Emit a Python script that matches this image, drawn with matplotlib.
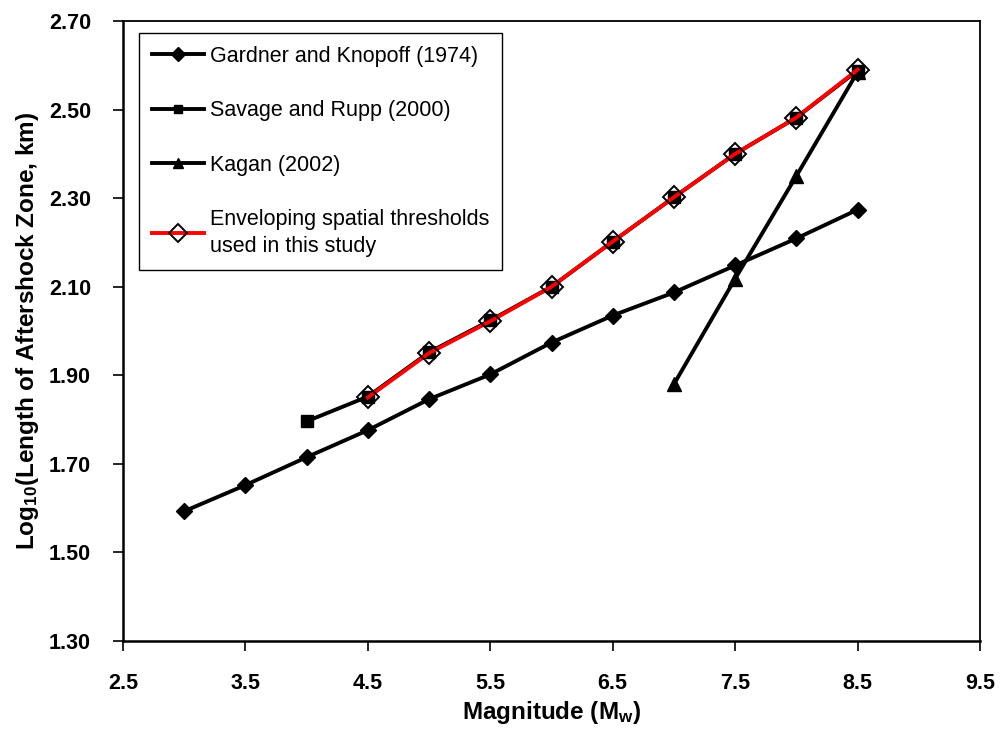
import matplotlib
matplotlib.use("Agg")
import matplotlib.pyplot as plt

plt.rcParams['font.family'] = ['Liberation Sans', 'DejaVu Sans']
plt.rcParams['mathtext.fontset'] = 'custom'
plt.rcParams['mathtext.rm'] = 'Liberation Sans:bold'
plt.rcParams['mathtext.bf'] = 'Liberation Sans:bold'
plt.rcParams['mathtext.it'] = 'Liberation Sans:bold'

# data
gk_mag = [3.0, 3.5, 4.0, 4.5, 5.0, 5.5, 6.0, 6.5, 7.0, 7.5, 8.0, 8.5]
gk_len = [1.593, 1.652, 1.715, 1.776, 1.846, 1.902, 1.974, 2.035, 2.087, 2.148, 2.209, 2.274]

sr_mag = [4.0, 4.5, 5.0, 5.5, 6.0, 6.5, 7.0, 7.5, 8.0, 8.5]
sr_len = [1.796, 1.852, 1.952, 2.024, 2.100, 2.202, 2.302, 2.400, 2.482, 2.588]

kg_mag = [7.0, 7.5, 8.0, 8.5]
kg_len = [1.880, 2.118, 2.350, 2.585]

env_mag = [4.5, 5.0, 5.5, 6.0, 6.5, 7.0, 7.5, 8.0, 8.5]
env_len = [1.850, 1.950, 2.022, 2.100, 2.202, 2.302, 2.400, 2.482, 2.590]

x_ticks = [2.5, 3.5, 4.5, 5.5, 6.5, 7.5, 8.5, 9.5]
y_ticks = [1.30, 1.50, 1.70, 1.90, 2.10, 2.30, 2.50, 2.70]

fig = plt.figure(figsize=(10.03, 7.31), dpi=100)
ax = fig.add_axes([123 / 1003, 1 - 641 / 731, 857 / 1003, 620 / 731])

ax.plot(gk_mag, gk_len, color='black', lw=2.8, marker='D', ms=8.5,
        label='Gardner and Knopoff (1974)', zorder=3)
ax.plot(sr_mag, sr_len, color='black', lw=2.8, marker='s', ms=8,
        label='Savage and Rupp (2000)', zorder=3)
ax.plot(kg_mag, kg_len, color='black', lw=2.8, marker='^', ms=9.5,
        label='Kagan (2002)', zorder=3)
ax.plot(env_mag, env_len, color='red', lw=2.8, marker='D', ms=11.5,
        mfc='none', mec='black', mew=1.4,
        label='Enveloping spatial thresholds\nused in this study', zorder=4)

ax.set_xlim(2.5, 9.5)
ax.set_ylim(1.30, 2.70)
ax.set_xticks(x_ticks)
ax.set_yticks(y_ticks)
ax.set_xticklabels([f"{v:.1f}" for v in x_ticks])
ax.set_yticklabels([f"{v:.2f}" for v in y_ticks])
ax.tick_params(direction='out', length=7, width=1.2, labelsize=15.5)
ax.tick_params(axis='x', pad=16)
ax.tick_params(axis='y', pad=16)
for lab in ax.get_xticklabels() + ax.get_yticklabels():
    lab.set_fontweight('bold')

for side in ['left', 'bottom']:
    ax.spines[side].set_linewidth(1.8)
for side in ['right', 'top']:
    ax.spines[side].set_linewidth(1.3)

ax.set_xlabel(r'Magnitude (M$_{w}$)', fontsize=17.5, fontweight='bold', labelpad=4)
ax.set_ylabel(r'Log$_{10}$(Length of Aftershock Zone, km)', fontsize=17.5,
              fontweight='bold', labelpad=6)

leg = ax.legend(loc='upper left', bbox_to_anchor=(0.0187, 0.9806),
                fontsize=15.5, frameon=True, fancybox=False, framealpha=1,
                edgecolor='black', handlelength=2.4, labelspacing=1.55,
                borderpad=0.6, handletextpad=0.3, borderaxespad=0,
                markerscale=0.8)
leg.get_frame().set_linewidth(1.0)
for t in leg.get_texts():
    t.set_linespacing(1.35)

fig.savefig('out.png', dpi=100)
